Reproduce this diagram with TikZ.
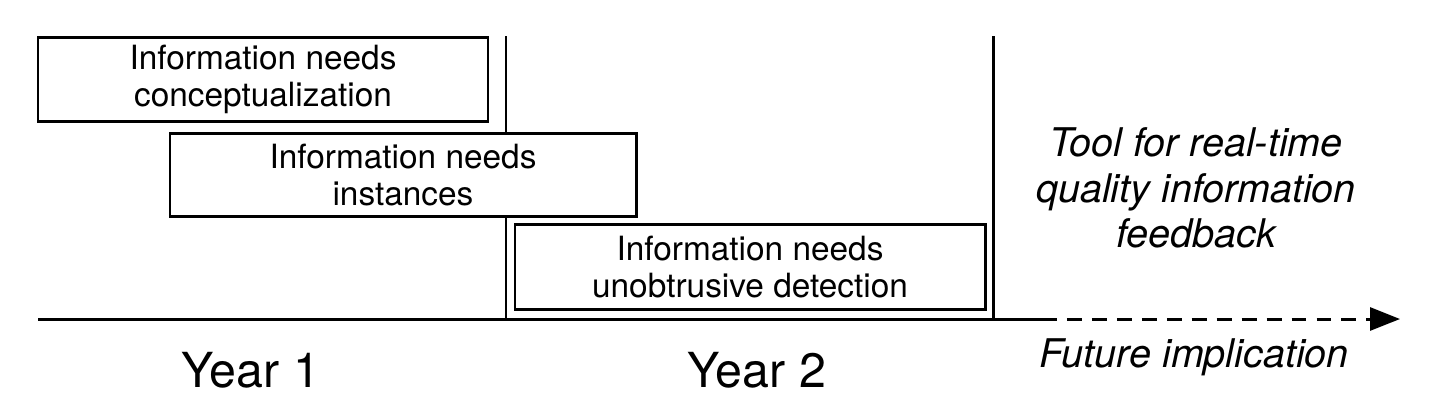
\documentclass[tikz,border=0pt]{standalone}
\usepackage{fontspec}
\setmainfont{TeX Gyre Heros}
\usepackage{tikz}
\usetikzlibrary{arrows.meta}
\usetikzlibrary{positioning}
\tikzset{needbox/.style={draw=black,fill=white,line width=1.7pt,inner sep=0pt,align=center,font=\fontsize{19}{21}\selectfont}}
\tikzset{yearlabel/.style={inner sep=0pt,font=\fontsize{27.5}{30}\selectfont}}
\tikzset{future/.style={inner sep=0pt,align=center,font=\fontsize{22.5}{26}\selectfont\itshape}}
\tikzset{axis/.style={line width=1.7pt}}

\begin{document}
\begin{tikzpicture}
\useasboundingbox (0,0) rectangle (28.8,-8.3);

\coordinate (axL) at (0.76,-6.38);
\coordinate (axM) at (20.84,-6.38);
\coordinate (axR) at (28.0,-6.38);
\foreach \i / \x in {1/10.12,2/19.86} {
	\coordinate (Vt\i) at (\x,-0.72);
	\coordinate (Vb\i) at (\x,-6.38);
	\draw[axis] (Vt\i) -- (Vb\i);
}
\draw[axis] (axL) -- (axM);
\draw[axis,dash pattern=on 8.5pt off 5.7pt,-{Triangle[length=0.6cm,width=0.46cm]}] (axM) -- (axR);

\node (N1) at (5.26,-1.58) [needbox,minimum width=9cm,minimum height=1.68cm] {Information needs\\conceptualization};
\node (N2) at (8.06,-3.5) [needbox,minimum width=9.32cm,minimum height=1.66cm] {Information needs\\instances};
\node (N3) at (15.0,-5.34) [needbox,minimum width=9.4cm,minimum height=1.7cm] {Information needs\\unobtrusive detection};

\node (Y1) at (5.02,-7.4) [yearlabel] {Year 1};
\node (Y2) at (15.14,-7.4) [yearlabel] {Year 2};
\node (Tool) at (23.92,-3.76) [future] {Tool for real-time\\quality information\\feedback};
\node (Fut) at (23.88,-7.14) [future] {Future implication};

\end{tikzpicture}
\end{document}
